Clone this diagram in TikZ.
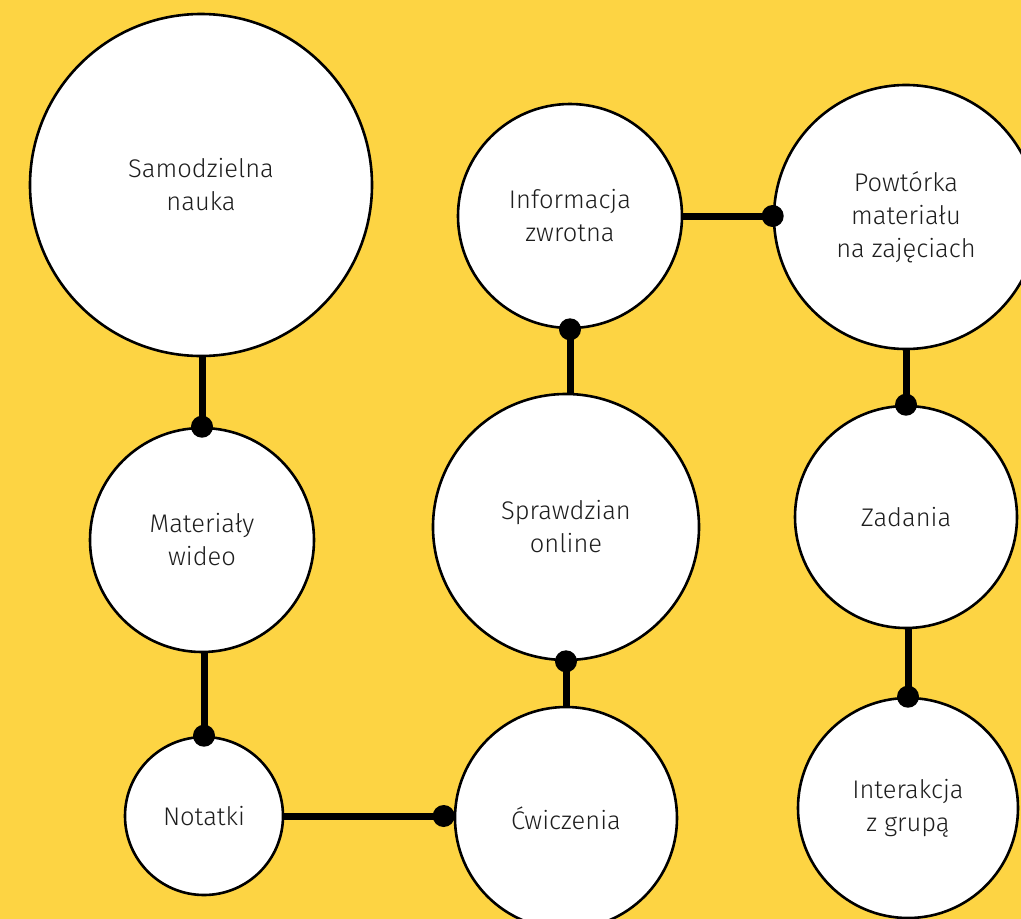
\documentclass[tikz,border=0pt]{standalone}
\usepackage{fontspec}
\setmainfont{Fira Sans}[UprightFont={* Light}]
\usetikzlibrary{positioning}
\definecolor{bgyellow}{HTML}{FDD443}
\definecolor{txtgray}{HTML}{1E1E1E}

\begin{document}
\begin{tikzpicture}
  [x=1pt, y=-1pt,
   stage/.style={shape=circle, draw=black, fill=white, line width=2.6pt,
         inner sep=0pt, align=center, text=txtgray,
         font=\fontsize{25.5}{33}\selectfont},
   link/.style={line width=7pt},
   knot/.style={fill=black}
  ]

 \useasboundingbox (0, 0) rectangle (1021, 919);
 \fill [bgyellow] (0, 0) rectangle (1021, 919);

 \path
   (201, 185) node (selfstudy) [stage, minimum size=342pt] {Samodzielna\\nauka}
   (202, 540) node (videos)    [stage, minimum size=224pt] {Materiały\\wideo}
   (204, 816) node (notes)     [stage, minimum size=158pt] {Notatki}
   (566, 818) node (exercises) [stage, minimum size=222pt] {Ćwiczenia}
   (566, 527) node (quiz)      [stage, minimum size=266pt] {Sprawdzian\\online}
   (570, 216) node (feedback)  [stage, minimum size=224pt] {Informacja\\zwrotna}
   (906, 217) node (review)    [stage, minimum size=264pt] {Powtórka\\materiału\\na zajęciach}
   (906, 517) node (tasks)     [stage, minimum size=222pt] {Zadania}
   (908, 808) node (group)     [stage, minimum size=220pt] {Interakcja\\z grupą}
   ;

 % connectors, dot on the receiving circle
 \begin{scope}[link]
   \draw (selfstudy.south -| videos.north) -- (videos.north);
   \draw (videos.south -| notes.north) -- (notes.north);
   \draw (notes.east) -- (notes.east -| exercises.west);
   \draw (exercises.north -| quiz.south) -- (quiz.south);
   \draw (quiz.north -| feedback.south) -- (feedback.south);
   \draw (feedback.east) -- (feedback.east -| review.west);
   \draw (review.south -| tasks.north) -- (tasks.north);
   \draw (tasks.south -| group.north) -- (group.north);
 \end{scope}
 \begin{scope}[knot]
   \fill (videos.north) circle (11);
   \fill (notes.north) circle (11);
   \fill ([xshift=-10pt]notes.east -| exercises.west) circle (11);
   \fill (quiz.south) circle (11);
   \fill (feedback.south) circle (11);
   \fill (feedback.east -| review.west) circle (11);
   \fill (tasks.north) circle (11);
   \fill (group.north) circle (11);
 \end{scope}

\end{tikzpicture}
\end{document}
